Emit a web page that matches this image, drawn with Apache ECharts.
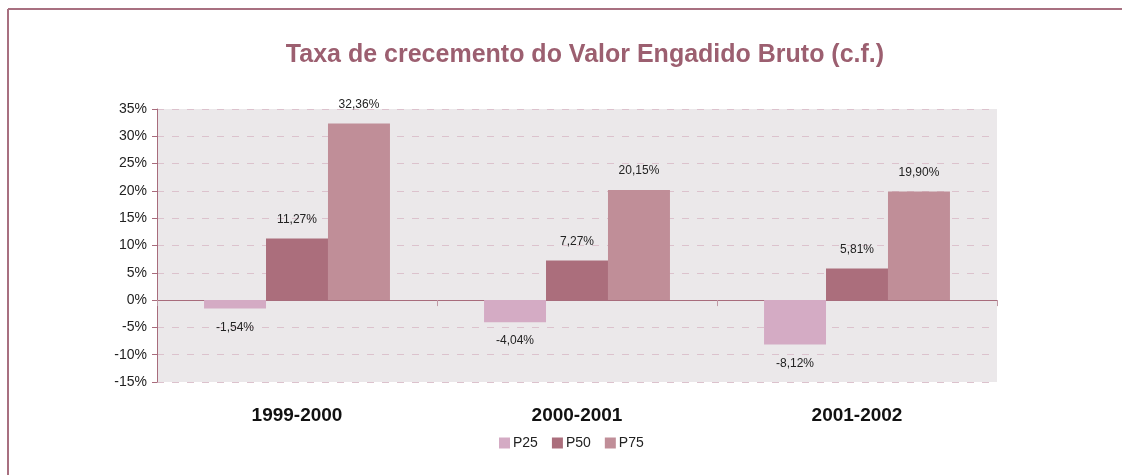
<!DOCTYPE html>
<html>
<head>
<meta charset="utf-8">
<script src="https://cdn.jsdelivr.net/npm/echarts@6/dist/echarts.min.js"></script>
<style>
  html, body { margin: 0; padding: 0; background: #fff; }
  #chart { width: 1122px; height: 475px; }
</style>
</head>
<body>
<div id="chart"></div>
<script>
const periods = ['1999-2000', '2000-2001', '2001-2002']
const p25 = [-1.54, -4.04, -8.12]
const p50 = [11.27, 7.27, 5.81]
const p75 = [32.36, 20.15, 19.9]
const yTicks = { min: -15, max: 35, step: 5 }

const narrow = '"Liberation Sans Narrow", "Liberation Sans", Arial, sans-serif'
const fmt = (v) => v.toFixed(2).replace('.', ',') + '%'

function bars(name, values, color) {
  return {
    name,
    type: 'bar',
    xAxisIndex: 0,
    barGap: 0,
    barCategoryGap: '33.6%',
    itemStyle: { color },
    data: values.map((v) => ({
      value: v,
      label: { position: v < 0 ? 'bottom' : 'top' }
    })),
    label: {
      show: true,
      distance: 13,
      fontFamily: narrow,
      fontSize: 12,
      color: '#222',
      formatter: (p) => fmt(p.value)
    }
  }
}

const chart = echarts.init(document.getElementById('chart'))
chart.setOption({
  animation: false,
  title: {
    text: 'Taxa de crecemento do Valor Engadido Bruto (c.f.)',
    left: 580,
    textAlign: 'center',
    top: 38,
    textStyle: { color: '#9c5f70', fontSize: 25, fontWeight: 'bold', fontFamily: 'Liberation Sans, Arial' }
  },
  legend: {
    bottom: 20,
    left: 494,
    itemWidth: 11,
    itemHeight: 11,
    itemGap: 14,
    icon: 'rect',
    textStyle: { fontFamily: narrow, fontSize: 14, color: '#222', padding: [0, 0, 0, -2] }
  },
  grid: {
    left: 157, right: 125, top: 109, bottom: 93,
    show: true, backgroundColor: '#ebe8ea', borderWidth: 0
  },
  graphic: [
    { type: 'line', shape: { x1: 8, y1: 9, x2: 1122, y2: 9 }, style: { stroke: '#a87080', lineWidth: 2 } },
    { type: 'line', shape: { x1: 8, y1: 9, x2: 8, y2: 475 }, style: { stroke: '#a87080', lineWidth: 2 } }
  ],
  xAxis: [
    {
      type: 'category',
      data: periods,
      axisLine: { onZero: true, lineStyle: { color: '#a86c7c', width: 1 } },
      axisTick: { show: true, length: 6, lineStyle: { color: '#c09aa6' } },
      axisLabel: { show: false }
    },
    {
      type: 'category',
      data: periods,
      position: 'bottom',
      axisLine: { show: false, onZero: false },
      axisTick: { show: false },
      axisLabel: { margin: 24, fontSize: 19, fontWeight: 'bold', color: '#111', fontFamily: 'Liberation Sans, Arial' }
    }
  ],
  yAxis: {
    type: 'value',
    min: yTicks.min,
    max: yTicks.max,
    interval: yTicks.step,
    axisLine: { show: true, lineStyle: { color: '#a86c7c' } },
    axisTick: { show: true, length: 5, lineStyle: { color: '#a86c7c' } },
    axisLabel: { formatter: '{value}%', fontFamily: narrow, fontSize: 14, color: '#222', margin: 10 },
    splitLine: { lineStyle: { color: '#dcc2cd', type: [7, 8] } }
  },
  series: [
    bars('P25', p25, '#d4abc4'),
    bars('P50', p50, '#ab6e7c'),
    bars('P75', p75, '#c08e98')
  ]
})
</script>
</body>
</html>
